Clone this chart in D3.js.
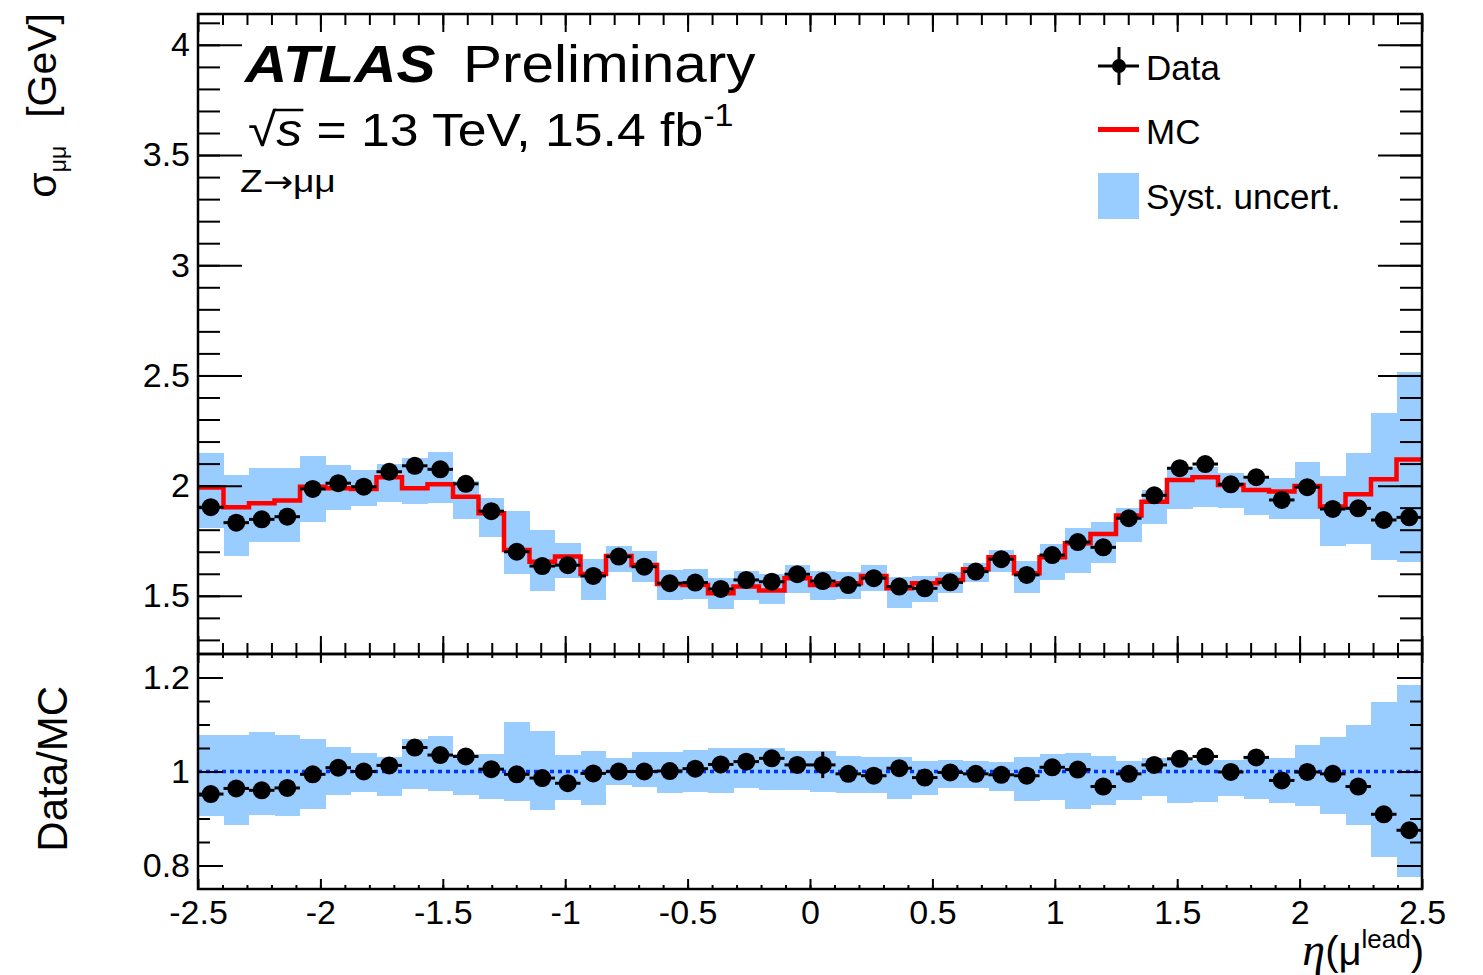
<!DOCTYPE html>
<html>
<head>
<meta charset="utf-8">
<script src="https://cdn.jsdelivr.net/npm/d3@7"></script>
<style>
  body { margin: 0; background: #fff; }
  svg { display: block; }
  text { font-family: "Liberation Sans", Arial, Helvetica, sans-serif; fill: #000; }
</style>
</head>
<body>
<svg id="chart" width="1483" height="975"></svg>
<script>
// eta binning (48 equal bins between -2.5 and 2.5)
var nBins = 48, etaMin = -2.5, etaMax = 2.5;

// sigma_mumu [GeV], data
var dataVals = [1.902,1.832,1.847,1.859,1.985,2.011,1.995,2.063,2.090,2.074,2.008,1.884,1.700,1.635,1.639,1.590,
                1.678,1.632,1.557,1.560,1.531,1.572,1.564,1.598,1.567,1.549,1.580,1.542,1.534,1.561,1.610,1.666,
                1.595,1.685,1.744,1.720,1.852,1.956,2.079,2.098,2.006,2.038,1.935,1.993,1.894,1.897,1.844,1.856];
var dataErr = [0.01,0.01,0.01,0.01,0.01,0.01,0.01,0.01,0.01,0.01,0.01,0.01,0.01,0.01,0.01,0.01,
               0.01,0.01,0.01,0.01,0.01,0.01,0.01,0.01,0.02,0.01,0.01,0.01,0.01,0.01,0.01,0.01,
               0.01,0.01,0.01,0.01,0.01,0.01,0.01,0.01,0.01,0.01,0.01,0.01,0.01,0.01,0.01,0.01];
// MC prediction
var mcVals = [1.991,1.902,1.920,1.932,1.995,1.988,1.985,2.038,1.988,2.006,1.950,1.875,1.708,1.655,1.678,1.599,
              1.681,1.640,1.554,1.549,1.512,1.542,1.524,1.580,1.549,1.557,1.590,1.534,1.557,1.572,1.620,1.675,
              1.602,1.675,1.738,1.781,1.864,1.927,2.026,2.038,2.003,1.980,1.973,1.998,1.905,1.961,2.029,2.119];
// syst. band on MC (upper / lower edge)
var systHi = [2.147,2.048,2.079,2.079,2.135,2.094,2.071,2.098,2.124,2.151,2.022,1.943,1.886,1.799,1.741,1.667,
              1.726,1.704,1.617,1.622,1.580,1.614,1.599,1.640,1.614,1.610,1.640,1.584,1.590,1.607,1.650,1.708,
              1.658,1.735,1.807,1.834,1.900,1.980,2.086,2.083,2.059,2.029,2.033,2.107,2.044,2.147,2.331,2.517];
var systLo = [1.807,1.681,1.746,1.746,1.837,1.890,1.908,1.927,1.917,1.920,1.849,1.769,1.599,1.524,1.580,1.481,
              1.607,1.564,1.481,1.486,1.440,1.481,1.463,1.514,1.481,1.486,1.522,1.446,1.474,1.512,1.564,1.607,
              1.512,1.572,1.605,1.650,1.746,1.824,1.894,1.905,1.900,1.867,1.849,1.849,1.728,1.735,1.663,1.652];

// Data/MC ratio
var ratioVals = [0.952,0.964,0.960,0.965,0.994,1.008,1.000,1.013,1.051,1.035,1.032,1.005,0.994,0.986,0.975,0.996,
                 1.000,1.000,1.001,1.006,1.015,1.021,1.028,1.014,1.014,0.995,0.991,1.007,0.987,0.998,0.995,0.993,
                 0.991,1.009,1.004,0.968,0.995,1.014,1.027,1.032,0.999,1.030,0.981,0.999,0.995,0.968,0.909,0.875];
var ratioErr = [0.005,0.005,0.005,0.005,0.005,0.005,0.005,0.005,0.005,0.005,0.005,0.005,0.005,0.005,0.005,0.005,
                0.005,0.005,0.005,0.005,0.005,0.005,0.005,0.005,0.028,0.005,0.005,0.005,0.005,0.005,0.005,0.005,
                0.005,0.005,0.005,0.005,0.005,0.005,0.005,0.005,0.005,0.005,0.005,0.005,0.005,0.005,0.005,0.005];
var ratioHi = [1.078,1.078,1.083,1.078,1.070,1.052,1.039,1.030,1.070,1.076,1.037,1.037,1.105,1.086,1.036,1.044,
               1.029,1.042,1.042,1.045,1.049,1.049,1.049,1.043,1.044,1.034,1.031,1.031,1.023,1.025,1.023,1.020,
               1.031,1.038,1.039,1.034,1.023,1.029,1.029,1.025,1.025,1.029,1.029,1.057,1.074,1.098,1.148,1.185];
var ratioLo = [0.906,0.886,0.907,0.905,0.920,0.950,0.957,0.947,0.963,0.959,0.949,0.942,0.938,0.918,0.939,0.929,
               0.972,0.968,0.955,0.957,0.955,0.964,0.961,0.961,0.957,0.955,0.955,0.942,0.950,0.964,0.964,0.959,
               0.938,0.939,0.920,0.929,0.939,0.947,0.934,0.936,0.947,0.942,0.934,0.927,0.909,0.887,0.818,0.775];

// tick labels
var xMajor = [-2.5,-2,-1.5,-1,-0.5,0,0.5,1,1.5,2,2.5];
var yTopMajor = [1.5,2,2.5,3,3.5,4];
var yBotMajor = [0.8,1,1.2];

var svg = d3.select("#chart");

var frameL = 198, frameR = 1422, frameT = 14, frameM = 654, frameB = 889;

var x = d3.scaleLinear().domain([etaMin, etaMax]).range([frameL, frameR]);
var yTop = d3.scaleLinear().domain([1.236, 4.14]).range([frameM, frameT]);
var yBot = d3.scaleLinear().domain([0.75, 1.25]).range([frameB, frameM]);

var binWidth = (etaMax - etaMin) / nBins;
var bins = d3.range(nBins).map(function(i) {
  return { i: i, lo: etaMin + i * binWidth, hi: etaMin + (i + 1) * binWidth, c: etaMin + (i + 0.5) * binWidth };
});

var bandColor = "#99ccff";

// ---- upper panel ----
var up = svg.append("g");

up.append("g").selectAll("rect")
  .data(bins).enter().append("rect")
  .attr("x", d => x(d.lo))
  .attr("width", d => x(d.hi) - x(d.lo))
  .attr("y", d => yTop(systHi[d.i]))
  .attr("height", d => yTop(systLo[d.i]) - yTop(systHi[d.i]))
  .attr("fill", bandColor)
  .attr("shape-rendering", "crispEdges");

var stepPts = [];
bins.forEach(function(d) {
  stepPts.push([d.lo, mcVals[d.i]]);
  stepPts.push([d.hi, mcVals[d.i]]);
});
up.append("path")
  .datum(stepPts)
  .attr("d", d3.line().x(p => x(p[0])).y(p => yTop(p[1])))
  .attr("fill", "none")
  .attr("stroke", "#ff0000")
  .attr("stroke-width", 4.5)
  .attr("stroke-linejoin", "miter");

function drawPoints(g, yScale, vals, errs) {
  g.append("g").selectAll("line")
    .data(bins).enter().append("line")
    .attr("x1", d => x(d.lo)).attr("x2", d => x(d.hi))
    .attr("y1", d => yScale(vals[d.i])).attr("y2", d => yScale(vals[d.i]))
    .attr("stroke", "#000").attr("stroke-width", 3);
  g.append("g").selectAll("line")
    .data(bins).enter().append("line")
    .attr("x1", d => x(d.c)).attr("x2", d => x(d.c))
    .attr("y1", d => yScale(vals[d.i] - errs[d.i])).attr("y2", d => yScale(vals[d.i] + errs[d.i]))
    .attr("stroke", "#000").attr("stroke-width", 3);
  g.append("g").selectAll("circle")
    .data(bins).enter().append("circle")
    .attr("cx", d => x(d.c)).attr("cy", d => yScale(vals[d.i]))
    .attr("r", 9).attr("fill", "#000");
}
drawPoints(up, yTop, dataVals, dataErr);

// ---- ratio panel ----
var lo = svg.append("g");

lo.append("g").selectAll("rect")
  .data(bins).enter().append("rect")
  .attr("x", d => x(d.lo))
  .attr("width", d => x(d.hi) - x(d.lo))
  .attr("y", d => yBot(ratioHi[d.i]))
  .attr("height", d => yBot(ratioLo[d.i]) - yBot(ratioHi[d.i]))
  .attr("fill", bandColor)
  .attr("shape-rendering", "crispEdges");

lo.append("line")
  .attr("x1", x(etaMin)).attr("x2", x(etaMax))
  .attr("y1", yBot(1)).attr("y2", yBot(1))
  .attr("stroke", "#0033ff").attr("stroke-width", 3.5)
  .attr("stroke-dasharray", "4,4");

drawPoints(lo, yBot, ratioVals, ratioErr);

// ---- axes / ticks ----
function styleAxis(g, fontSize) {
  g.attr("font-family", null).attr("font-size", null);
  g.select(".domain").remove();
  g.selectAll(".tick line").attr("stroke", "#000").attr("stroke-width", 2);
  g.selectAll(".tick text").style("font-size", fontSize + "px").attr("fill", "#000");
}
function addAxis(axis, tx, ty, fontSize) {
  var g = svg.append("g").attr("transform", "translate(" + tx + "," + ty + ")").call(axis);
  styleAxis(g, fontSize || 34);
  return g;
}

var xMinor = d3.range(-24, 25).map(i => i / 10);
var yTopMinor = d3.range(13, 42).map(i => i / 10);
var yBotMinor = d3.range(16, 25).map(i => i / 20);
var noLab = () => "";
var fmt = d => String(d);

// upper panel: left/right
addAxis(d3.axisLeft(yTop).tickValues(yTopMinor).tickSize(-22).tickFormat(noLab), frameL, 0);
addAxis(d3.axisLeft(yTop).tickValues(yTopMajor).tickSize(-44).tickPadding(8).tickFormat(fmt), frameL, 0, 34);
addAxis(d3.axisRight(yTop).tickValues(yTopMinor).tickSize(-22).tickFormat(noLab), frameR, 0);
addAxis(d3.axisRight(yTop).tickValues(yTopMajor).tickSize(-44).tickFormat(noLab), frameR, 0);
// upper panel: top/bottom
addAxis(d3.axisTop(x).tickValues(xMinor).tickSize(-11).tickFormat(noLab), 0, frameT);
addAxis(d3.axisTop(x).tickValues(xMajor).tickSize(-18).tickFormat(noLab), 0, frameT);
addAxis(d3.axisBottom(x).tickValues(xMinor).tickSize(-11).tickFormat(noLab), 0, frameM);
addAxis(d3.axisBottom(x).tickValues(xMajor).tickSize(-18).tickFormat(noLab), 0, frameM);

// ratio panel
addAxis(d3.axisLeft(yBot).tickValues(yBotMinor).tickSize(-12).tickFormat(noLab), frameL, 0);
addAxis(d3.axisLeft(yBot).tickValues(yBotMajor).tickSize(-25).tickPadding(8).tickFormat(fmt), frameL, 0, 34);
addAxis(d3.axisRight(yBot).tickValues(yBotMinor).tickSize(-12).tickFormat(noLab), frameR, 0);
addAxis(d3.axisRight(yBot).tickValues(yBotMajor).tickSize(-25).tickFormat(noLab), frameR, 0);
addAxis(d3.axisTop(x).tickValues(xMinor).tickSize(-4).tickFormat(noLab), 0, frameM);
addAxis(d3.axisTop(x).tickValues(xMajor).tickSize(-9).tickFormat(noLab), 0, frameM);
addAxis(d3.axisBottom(x).tickValues(xMinor).tickSize(-4).tickFormat(noLab), 0, frameB);
addAxis(d3.axisBottom(x).tickValues(xMajor).tickSize(-10).tickPadding(11).tickFormat(fmt), 0, frameB, 34);

// frames
svg.append("rect").attr("x", frameL).attr("y", frameT).attr("width", frameR - frameL).attr("height", frameM - frameT)
  .attr("fill", "none").attr("stroke", "#000").attr("stroke-width", 2.5);
svg.append("rect").attr("x", frameL).attr("y", frameM).attr("width", frameR - frameL).attr("height", frameB - frameM)
  .attr("fill", "none").attr("stroke", "#000").attr("stroke-width", 2.5);

// ---- axis titles ----
var yt = svg.append("text")
  .attr("transform", "translate(56,13) rotate(-90)")
  .attr("text-anchor", "end")
  .style("font-size", "41px");
yt.append("tspan").text("σ");
yt.append("tspan").attr("dy", 10).style("font-size", "23px").text("μμ");
yt.append("tspan").attr("dy", -10).attr("dx", 28).text("[GeV]");

svg.append("text")
  .attr("transform", "translate(67,686) rotate(-90)")
  .attr("text-anchor", "end")
  .style("font-size", "42px")
  .text("Data/MC");

var xt = svg.append("text")
  .attr("x", 1424).attr("y", 965)
  .attr("text-anchor", "end")
  .style("font-size", "40px");
xt.append("tspan").style("font-family", "'Liberation Serif', serif").style("font-style", "italic").style("font-size", "46px").text("η");
xt.append("tspan").text("(μ");
xt.append("tspan").attr("dy", -17).style("font-size", "26px").text("lead");
xt.append("tspan").attr("dy", 17).text(")");

// ---- labels (ROOT text comes out wider, so stretch horizontally) ----
svg.append("text")
  .attr("transform", "translate(245,82) scale(1.125,1)")
  .style("font-size", "52px").style("font-weight", "bold").style("font-style", "italic")
  .text("ATLAS");
svg.append("text")
  .attr("transform", "translate(463,82) scale(1.125,1)")
  .style("font-size", "52px")
  .text("Preliminary");

var lumiG = svg.append("g").attr("transform", "translate(248,146) scale(1.1,1)");
var lumi = lumiG.append("text").attr("x", 0).attr("y", 0).style("font-size", "47px");
lumi.append("tspan").text("√");
lumi.append("tspan").style("font-style", "italic").text("s");
lumi.append("tspan").text(" = 13 TeV, 15.4 fb");
lumi.append("tspan").attr("dy", -20).style("font-size", "31px").text("-1");
// overline for the square root
var ln = lumi.node();
var e0 = ln.getExtentOfChar(0), e1 = ln.getExtentOfChar(1);
lumiG.append("line")
  .attr("x1", e0.x + e0.width - 2).attr("x2", e1.x + e1.width + 1)
  .attr("y1", -36).attr("y2", -36)
  .attr("stroke", "#000").attr("stroke-width", 2.5);

var zt = svg.append("text")
  .attr("transform", "translate(240,192) scale(1.2,1)")
  .style("font-size", "31px");
zt.append("tspan").text("Z");
zt.append("tspan").style("font-family", "'DejaVu Sans', sans-serif").style("font-size", "30px").text("→");
zt.append("tspan").text("μμ");

// ---- legend ----
var leg = svg.append("g");
leg.append("line").attr("x1", 1098).attr("x2", 1139).attr("y1", 66).attr("y2", 66).attr("stroke", "#000").attr("stroke-width", 3);
leg.append("line").attr("x1", 1119).attr("x2", 1119).attr("y1", 47).attr("y2", 85).attr("stroke", "#000").attr("stroke-width", 3);
leg.append("circle").attr("cx", 1119).attr("cy", 66).attr("r", 7).attr("fill", "#000");
leg.append("text").attr("x", 1146).attr("y", 80).style("font-size", "35px").text("Data");

leg.append("line").attr("x1", 1098).attr("x2", 1139).attr("y1", 129.5).attr("y2", 129.5).attr("stroke", "#ff0000").attr("stroke-width", 5);
leg.append("text").attr("x", 1146).attr("y", 144).style("font-size", "35px").text("MC");

leg.append("rect").attr("x", 1098).attr("y", 173).attr("width", 41).attr("height", 46).attr("fill", bandColor);
leg.append("text").attr("x", 1146).attr("y", 209).style("font-size", "35px").text("Syst. uncert.");
</script>
</body>
</html>
